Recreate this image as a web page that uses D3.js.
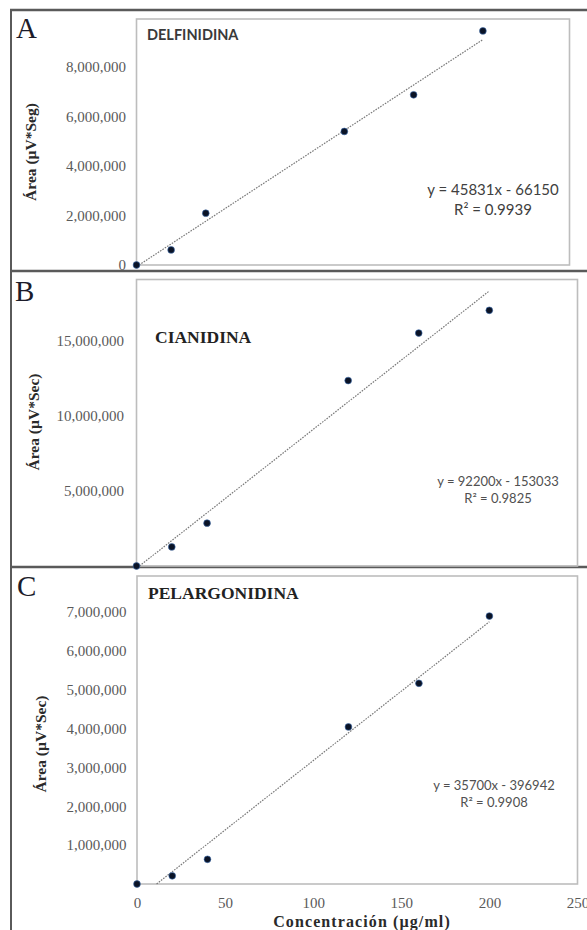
<!DOCTYPE html>
<html>
<head>
<meta charset="utf-8">
<script src="https://cdn.jsdelivr.net/npm/d3@7"></script>
<style>
  body { margin: 0; background: #fff; }
  svg { display: block; }
</style>
</head>
<body>
<svg id="fig" width="587" height="930"></svg>
<script>
// Calibration data: concentration (µg/ml) vs. peak area (µV*s)
const concentrations = [0, 20, 40, 120, 160, 200];
const areaDelfinidina = [0, 610000, 2090000, 5390000, 6870000, 9450000];
const areaCianidina = [0, 1270000, 2850000, 12330000, 15490000, 17000000];
const areaPelargonidina = [0, 210000, 635000, 4040000, 5160000, 6890000];

// Linear fits as reported on each panel
const fitSlopes = [45831, 92200, 35700];
const fitIntercepts = [-66150, -153033, -396942];
const fitR2 = ["0.9939", "0.9825", "0.9908"];

// Axis ticks and labels
const yTicksDelfinidina = [0, 2000000, 4000000, 6000000, 8000000];
const yTicksCianidina = [5000000, 10000000, 15000000];
const yTicksPelargonidina = [1000000, 2000000, 3000000, 4000000, 5000000, 6000000, 7000000];
const xTicks = [0, 50, 100, 150, 200, 250];
const panelLetters = ["A", "B", "C"];
const panelTitles = ["DELFINIDINA", "CIANIDINA", "PELARGONIDINA"];
const yAxisTitles = ["Área (µV*Seg)", "Área (µV*Sec)", "Área  (µV*Sec)"];
const xAxisTitle = "Concentración (µg/ml)";

const seriesValues = [areaDelfinidina, areaCianidina, areaPelargonidina];
const yTickSets = [yTicksDelfinidina, yTicksCianidina, yTicksPelargonidina];
const yTops = [9.93e6, 19.05e6, 7.92e6];

// Layout of the three stacked panels
const layout = [
  { box: { l: 136.5, r: 569.5, t: 19, b: 265 }, pad: 10.5,
    letter: [16, 38], title: [147, 40], titleFont: "Lato, 'Open Sans', sans-serif", titleSize: 14.5, titleColor: "#3a3a3a",
    eq: [493, 195], eqSize: 15, eqColor: "#404040", yTitle: [36, 152] },
  { box: { l: 136.5, r: 577.5, t: 279.5, b: 566 }, pad: 12.5,
    letter: [15, 300.5], title: [155, 343], titleFont: "'Liberation Serif', 'Times New Roman', serif", titleSize: 17.5, titleColor: "#222",
    eq: [498, 486], eqSize: 13, eqColor: "#505050", yTitle: [39, 422] },
  { box: { l: 137, r: 577.5, t: 576, b: 884 }, pad: 10.5,
    letter: [17, 596], title: [148, 599], titleFont: "'Liberation Serif', 'Times New Roman', serif", titleSize: 17.5, titleColor: "#222",
    eq: [494, 790], eqSize: 13, eqColor: "#505050", yTitle: [46, 744] }
];

const svg = d3.select("#fig");
const serif = "'Liberation Serif', 'Times New Roman', serif";
const frameColor = "#5a5a5a";

// Outer figure frame and panel separators
svg.append("line").attr("x1", 11).attr("x2", 11).attr("y1", 9).attr("y2", 930)
  .attr("stroke", frameColor).attr("stroke-width", 2);
svg.append("line").attr("x1", 10).attr("x2", 587).attr("y1", 10).attr("y2", 10)
  .attr("stroke", frameColor).attr("stroke-width", 2.5);
[271, 567].forEach(y => {
  svg.append("line").attr("x1", 10).attr("x2", 587).attr("y1", y).attr("y2", y)
    .attr("stroke", frameColor).attr("stroke-width", 2.5);
});

layout.forEach((p, i) => {
  const g = svg.append("g");
  const x = d3.scaleLinear().domain([0, 250]).range([p.box.l, p.box.r]);
  const y = d3.scaleLinear().domain([0, yTops[i]]).range([p.box.b, p.box.t]);

  // plot area border
  g.append("rect")
    .attr("x", p.box.l).attr("y", p.box.t)
    .attr("width", p.box.r - p.box.l).attr("height", p.box.b - p.box.t)
    .attr("fill", "none").attr("stroke", "#bdbdbd").attr("stroke-width", 1.6);

  // y axis tick labels
  const yAxis = d3.axisLeft(y).tickValues(yTickSets[i]).tickSize(0)
    .tickPadding(p.pad).tickFormat(d3.format(","));
  const ya = g.append("g").attr("transform", `translate(${p.box.l},0)`).call(yAxis);
  ya.select(".domain").remove();
  ya.selectAll("text").attr("font-family", serif).attr("font-size", 15).attr("fill", "#5a5a5a");

  // x axis tick labels on the bottom panel only
  if (i === 2) {
    const xAxis = d3.axisBottom(x).tickValues(xTicks).tickSize(0).tickPadding(13);
    const xa = g.append("g").attr("transform", `translate(0,${p.box.b})`).call(xAxis);
    xa.select(".domain").remove();
    xa.selectAll("text").attr("font-family", serif).attr("font-size", 15).attr("fill", "#5a5a5a");
  }

  // trendline from the reported fit, clipped at zero area
  const m = fitSlopes[i], b = fitIntercepts[i];
  const x0 = Math.max(0, -b / m);
  const x1 = d3.max(concentrations);
  g.append("line")
    .attr("x1", x(x0)).attr("y1", y(m * x0 + b))
    .attr("x2", x(x1)).attr("y2", y(m * x1 + b))
    .attr("stroke", "#7a7a7a").attr("stroke-width", 1.2)
    .attr("stroke-dasharray", "1.6,1.2");

  // data points
  g.selectAll("circle.pt")
    .data(concentrations.map((c, k) => [c, seriesValues[i][k]]))
    .join("circle")
    .attr("class", "pt")
    .attr("cx", d => x(d[0])).attr("cy", d => y(d[1]))
    .attr("r", 3.4)
    .attr("fill", "#0a1326")
    .attr("stroke", "#3c6db0").attr("stroke-width", 0.8).attr("stroke-opacity", 0.75);

  // panel letter
  g.append("text").attr("x", p.letter[0]).attr("y", p.letter[1])
    .attr("font-family", serif).attr("font-size", 29).attr("fill", "#1c1c2a")
    .text(panelLetters[i]);

  // panel title
  g.append("text").attr("x", p.title[0]).attr("y", p.title[1])
    .attr("font-family", p.titleFont).attr("font-weight", "bold")
    .attr("font-size", p.titleSize).attr("fill", p.titleColor)
    .text(panelTitles[i]);

  // regression equation
  const eq = g.append("text").attr("text-anchor", "middle")
    .attr("font-family", "Lato, 'Open Sans', sans-serif")
    .attr("font-size", p.eqSize).attr("fill", p.eqColor);
  eq.append("tspan").attr("x", p.eq[0]).attr("y", p.eq[1])
    .text(`y = ${m}x - ${Math.abs(b)}`);
  eq.append("tspan").attr("x", p.eq[0]).attr("dy", p.eqSize * 1.3)
    .text(`R² = ${fitR2[i]}`);

  // y axis title
  g.append("text")
    .attr("transform", `translate(${p.yTitle[0]},${p.yTitle[1]}) rotate(-90)`)
    .attr("text-anchor", "middle")
    .attr("font-family", serif).attr("font-weight", "bold")
    .attr("font-size", 15.5).attr("fill", "#2a2a2a")
    .text(yAxisTitles[i]);
});

// shared x axis title
svg.append("text")
  .attr("x", 362).attr("y", 927)
  .attr("text-anchor", "middle")
  .attr("font-family", serif).attr("font-weight", "bold")
  .attr("font-size", 16).attr("letter-spacing", 1.1).attr("fill", "#2a2a2a")
  .text(xAxisTitle);
</script>
</body>
</html>
